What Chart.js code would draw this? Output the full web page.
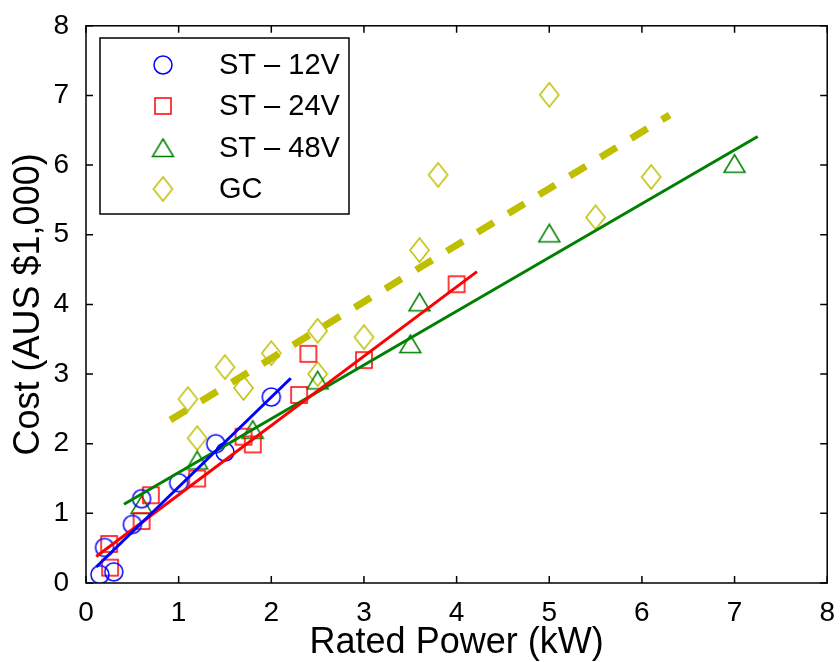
<!DOCTYPE html>
<html>
<head>
<meta charset="utf-8">
<script src="https://cdn.jsdelivr.net/npm/chart.js@4"></script>
<style>
  html, body { margin: 0; padding: 0; background: #fff; }
  #wrap { width: 840px; height: 662px; }
</style>
</head>
<body>
<div id="wrap"><canvas id="chart" width="840" height="662"></canvas></div>
<script>
// data
const st12X = [0.15, 0.3, 0.2, 0.5, 0.6, 1.0, 1.4, 1.5, 2.0];
const st12Y = [0.12, 0.16, 0.51, 0.84, 1.21, 1.44, 2.0, 1.88, 2.67];

const st24X = [0.25, 0.26, 0.6, 0.7, 1.2, 1.7, 1.8, 2.3, 2.4, 3.0, 4.0];
const st24Y = [0.56, 0.22, 0.89, 1.26, 1.50, 2.10, 1.99, 2.70, 3.29, 3.20, 4.29];

const st48X = [0.6, 1.2, 1.8, 2.5, 3.5, 3.6, 5.0, 7.0];
const st48Y = [1.12, 1.76, 2.20, 2.91, 3.43, 4.03, 5.02, 6.02];

const gcX = [1.1, 1.2, 1.5, 1.7, 2.0, 2.5, 2.5, 3.0, 3.6, 3.8, 5.0, 5.5, 6.1];
const gcY = [2.64, 2.08, 3.10, 2.80, 3.30, 3.62, 3.00, 3.53, 4.78, 5.86, 7.01, 5.25, 5.83];

// linear fits (end points)
const fit12X = [0.11, 2.21];
const fit12Y = [0.23, 2.94];
const fit24X = [0.11, 4.22];
const fit24Y = [0.38, 4.47];
const fit48X = [0.41, 7.25];
const fit48Y = [1.13, 6.41];
const fitGcX = [0.91, 6.30];
const fitGcY = [2.34, 6.72];

const seriesNames = ['ST \u2013 12V', 'ST \u2013 24V', 'ST \u2013 48V', 'GC'];
const xTicks = [0, 1, 2, 3, 4, 5, 6, 7, 8];
const yTicks = [0, 1, 2, 3, 4, 5, 6, 7, 8];

const BLUE = '#0000ff', RED = '#ff0000', GREEN = '#008000', YELLOW = '#bfbf00';
const FONT = "'Liberation Sans', Arial, sans-serif";

const toPoints = (xs, ys) => xs.map((x, i) => ({ x: x, y: ys[i] }));

// open MATLAB-like markers drawn on small canvases
const makeMarker = (shape, color) => {
    const c = document.createElement('canvas');
    const sizes = { circle: [22, 22], square: [20, 20], triangle: [25, 22], diamond: [23, 28] };
    const [w, h] = sizes[shape];
    c.width = w; c.height = h;
    const g = c.getContext('2d');
    g.strokeStyle = color;
    g.lineWidth = 1.5;
    g.beginPath();
    const cx = w / 2, cy = h / 2;
    if (shape === 'circle') {
        g.arc(cx, cy, 9, 0, Math.PI * 2);
    } else if (shape === 'square') {
        g.rect(cx - 8, cy - 8, 16, 16);
    } else if (shape === 'triangle') {
        g.moveTo(cx, cy - 9);
        g.lineTo(cx + 10.5, cy + 8.5);
        g.lineTo(cx - 10.5, cy + 8.5);
        g.closePath();
    } else {
        g.moveTo(cx, cy - 12);
        g.lineTo(cx + 9.5, cy);
        g.lineTo(cx, cy + 12);
        g.lineTo(cx - 9.5, cy);
        g.closePath();
    }
    g.stroke();
    return c;
};

const markers = [
    makeMarker('circle', BLUE),
    makeMarker('square', RED),
    makeMarker('triangle', GREEN),
    makeMarker('diamond', YELLOW)
];

const pointSet = (label, xs, ys, marker) => ({
    label: label,
    data: toPoints(xs, ys),
    pointStyle: marker,
    pointRadius: 10,
    showLine: false,
    order: 2
});

const lineSet = (xs, ys, color, width, dash) => ({
    data: toPoints(xs, ys),
    showLine: true,
    borderColor: color,
    borderWidth: width,
    borderDash: dash || [],
    borderCapStyle: 'butt',
    pointRadius: 0,
    order: 1
});

// box, inward ticks and legend
const framePlugin = {
    id: 'frame',
    afterDraw(chart) {
        const { ctx, chartArea: a, scales } = chart;
        ctx.save();
        ctx.strokeStyle = '#000';
        ctx.lineWidth = 1.5;
        ctx.strokeRect(a.left, a.top, a.right - a.left, a.bottom - a.top);
        ctx.beginPath();
        const tl = 7;
        xTicks.forEach(v => {
            const px = scales.x.getPixelForValue(v);
            ctx.moveTo(px, a.bottom); ctx.lineTo(px, a.bottom - tl);
            ctx.moveTo(px, a.top); ctx.lineTo(px, a.top + tl);
        });
        yTicks.forEach(v => {
            const py = scales.y.getPixelForValue(v);
            ctx.moveTo(a.left, py); ctx.lineTo(a.left + tl, py);
            ctx.moveTo(a.right, py); ctx.lineTo(a.right - tl, py);
        });
        ctx.stroke();

        // legend
        const lx = 100, ly = 38, lw = 249, lh = 176;
        ctx.fillStyle = '#fff';
        ctx.fillRect(lx, ly, lw, lh);
        ctx.lineWidth = 1.5;
        ctx.strokeRect(lx, ly, lw, lh);
        ctx.fillStyle = '#000';
        ctx.font = '29px ' + FONT;
        ctx.textBaseline = 'middle';
        ctx.textAlign = 'left';
        const rows = [65, 106, 148, 189];
        seriesNames.forEach((name, i) => {
            const m = markers[i];
            ctx.drawImage(m, 163 - m.width / 2, rows[i] - m.height / 2);
            ctx.fillText(name, 219, rows[i] + 1);
        });
        ctx.restore();
    }
};

new Chart(document.getElementById('chart'), {
    type: 'scatter',
    data: {
        datasets: [
            pointSet(seriesNames[0], st12X, st12Y, markers[0]),
            pointSet(seriesNames[1], st24X, st24Y, markers[1]),
            pointSet(seriesNames[2], st48X, st48Y, markers[2]),
            pointSet(seriesNames[3], gcX, gcY, markers[3]),
            lineSet(fit12X, fit12Y, BLUE, 3),
            lineSet(fit24X, fit24Y, RED, 3),
            lineSet(fit48X, fit48Y, GREEN, 3),
            lineSet(fitGcX, fitGcY, YELLOW, 7, [19, 17])
        ]
    },
    options: {
        responsive: false,
        animation: false,
        events: [],
        layout: { padding: { top: 24, right: 8, left: 0, bottom: 0 } },
        plugins: {
            legend: { display: false },
            tooltip: { enabled: false }
        },
        scales: {
            x: {
                type: 'linear',
                min: 0, max: 8,
                afterBuildTicks: s => { s.ticks = xTicks.map(v => ({ value: v })); },
                afterFit: s => { s.height = 79; },
                grid: { display: false },
                border: { display: false },
                ticks: { color: '#000', padding: 5, font: { family: FONT, size: 28 } },
                title: {
                    display: true,
                    text: 'Rated Power (kW)',
                    color: '#000',
                    font: { family: FONT, size: 36, lineHeight: 1 },
                    padding: { top: 0, bottom: 1 }
                }
            },
            y: {
                type: 'linear',
                min: 0, max: 8,
                afterBuildTicks: s => { s.ticks = yTicks.map(v => ({ value: v })); },
                afterFit: s => { s.width = 86; },
                grid: { display: false },
                border: { display: false },
                ticks: { color: '#000', padding: 9, font: { family: FONT, size: 28 } },
                title: {
                    display: true,
                    text: 'Cost (AUS $1,000)',
                    color: '#000',
                    font: { family: FONT, size: 36, lineHeight: 1 },
                    padding: { top: 11, bottom: 0 }
                }
            }
        }
    },
    plugins: [framePlugin]
});
</script>
</body>
</html>
